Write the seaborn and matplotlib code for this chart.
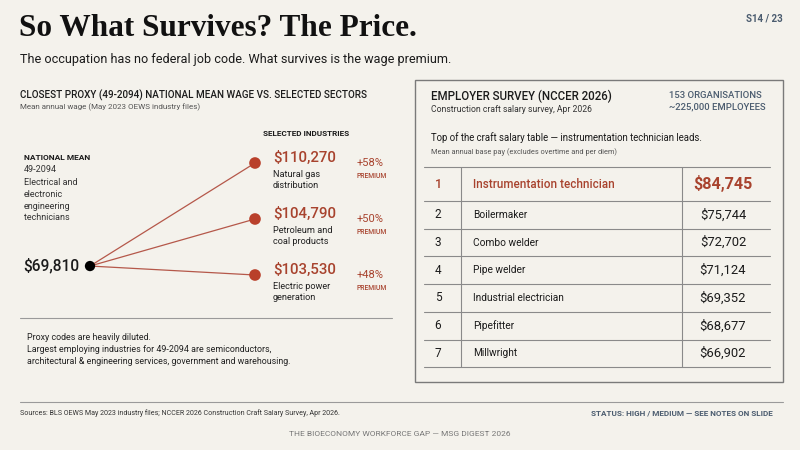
import matplotlib
matplotlib.use("Agg")
import matplotlib.pyplot as plt
import seaborn as sns
import pandas as pd

# ---------------- data ----------------
national_label = "NATIONAL MEAN"
national_code = "49-2094"
national_desc = ["Electrical and", "electronic", "engineering", "technicians"]
national_mean = 69810

industries = ["Natural gas\ndistribution", "Petroleum and\ncoal products", "Electric power\ngeneration"]
industry_wages = [110270, 104790, 103530]

ranks = [1, 2, 3, 4, 5, 6, 7]
crafts = ["Instrumentation technician", "Boilermaker", "Combo welder", "Pipe welder",
          "Industrial electrician", "Pipefitter", "Millwright"]
craft_pay = [84745, 75744, 72702, 71124, 69352, 68677, 66902]

# ---------------- style ----------------
sns.set_theme(style="white")
BODY = ["Roboto", "DejaVu Sans"]
SERIF = ["Liberation Serif", "DejaVu Serif"]
plt.rcParams["font.family"] = BODY

BG = "#f4f2ec"
INK = "#1b1b1b"
GREY = "#555555"
RED = "#a8432e"
DOT = "#b9402b"
LINE = "#b5584a"
SLATE = "#4b5c6f"
RULE = "#9a9a9a"

fig = plt.figure(figsize=(8, 4.5), dpi=100, facecolor=BG)
bg = fig.add_axes([0, 0, 1, 1])
bg.set_xlim(0, 800)
bg.set_ylim(450, 0)
bg.axis("off")
bg.set_facecolor(BG)

def T(x, y, s, **kw):
    kw.setdefault("color", INK)
    kw.setdefault("va", "center")
    bg.text(x, y, s, **kw)

# header
T(19, 29, "So What Survives? The Price.", family=SERIF, fontsize=22.5, weight="bold", color="#111111")
T(783, 19, "S14 / 23", fontsize=7, weight="bold", color=SLATE, ha="right")
T(20, 60, "The occupation has no federal job code. What survives is the wage premium.", fontsize=9.1)

# left panel header
T(20, 95, "CLOSEST PROXY (49-2094) NATIONAL MEAN WAGE VS. SELECTED SECTORS", fontsize=7.1, weight="medium")
T(20, 107, "Mean annual wage (May 2023 OEWS industry files)", fontsize=5.8, color=GREY)
T(263, 133, "SELECTED INDUSTRIES", fontsize=5.9, weight="bold")

T(24, 158, national_label, fontsize=6, weight="bold")
T(24, 170, national_code, fontsize=6.5, color="#333333")
for i, line in enumerate(national_desc):
    T(24, 182.5 + i * 11.8, line, fontsize=6.5, color="#333333")

# ---------------- slope chart ----------------
n = len(industries)
ax = fig.add_axes([90 / 800, 1 - 275 / 450, 165 / 800, 112 / 450])
ax.set_xlim(0, 1)
ax.set_ylim(n - 1, 0)
ax.axis("off")
ax.patch.set_alpha(0)

base_y = (n - 1) - 0.16
rows = []
for i, name in enumerate(industries):
    rows.append({"industry": name, "x": 0, "y": base_y, "wage": national_mean})
    rows.append({"industry": name, "x": 1, "y": i, "wage": industry_wages[i]})
df = pd.DataFrame(rows)

sns.lineplot(data=df, x="x", y="y", units="industry", estimator=None, color=LINE,
             linewidth=0.9, ax=ax, legend=False, clip_on=False)
ends = df[df["x"] == 1]
sns.scatterplot(data=ends, x="x", y="y", color=DOT, s=70, edgecolor="none", ax=ax,
                legend=False, clip_on=False, zorder=5)
sns.scatterplot(x=[0], y=[base_y], color="black", s=55, edgecolor="none", ax=ax,
                legend=False, clip_on=False, zorder=6)

ax.annotate(f"${national_mean:,}", (0, base_y), xytext=(-8, 0), textcoords="offset points",
            ha="right", va="center", fontsize=11.2, weight="medium", color=INK,
            annotation_clip=False)

for i, (name, w) in enumerate(zip(industries, industry_wages)):
    ax.annotate(f"${w:,}", (1, i), xytext=(13, 4), textcoords="offset points",
                ha="left", va="center", fontsize=10.8, weight="medium", color=RED,
                annotation_clip=False)
    ax.annotate(name, (1, i), xytext=(13, -5), textcoords="offset points",
                ha="left", va="top", fontsize=6.6, color="#222222", linespacing=1.35,
                annotation_clip=False)
    prem = round((w / national_mean - 1) * 100)
    ax.annotate(f"+{prem}%", (1, i), xytext=(73, 0), textcoords="offset points",
                ha="left", va="center", fontsize=8, color=RED, annotation_clip=False)
    ax.annotate("PREMIUM", (1, i), xytext=(73, -9.5), textcoords="offset points",
                ha="left", va="center", fontsize=4.9, weight="medium", color=RED,
                annotation_clip=False)

# divider + notes
bg.plot([20, 392], [318, 318], color=RULE, lw=0.8)
T(27, 337, "Proxy codes are heavily diluted.", fontsize=6.4, color="#222222")
T(27, 350, "Largest employing industries for 49-2094 are semiconductors,", fontsize=6.4, color="#222222")
T(27, 362, "architectural & engineering services, government and warehousing.", fontsize=6.4, color="#222222")

# ---------------- right panel ----------------
bg.add_patch(plt.Rectangle((415, 80), 368, 302, fill=False, edgecolor="#7a7a7a", lw=1.0))
T(431, 96, "EMPLOYER SURVEY (NCCER 2026)", fontsize=8.3, weight="medium")
T(431, 109, "Construction craft salary survey, Apr 2026", fontsize=6.2, color="#333333")
T(669, 96, "153 ORGANISATIONS", fontsize=6.8, weight="medium", color=SLATE)
T(669, 107, "~225,000 EMPLOYEES", fontsize=6.8, weight="medium", color=SLATE)
T(431, 138, "Top of the craft salary table \u2014 instrumentation technician leads.", fontsize=6.9)
T(431, 152, "Mean annual base pay (excludes overtime and per diem)", fontsize=5.3, color=GREY)

# table layout
tl, tr = 424, 770
c1, c2 = 461, 682
top = 167
h_first, h_row = 34, 27.7
bounds = [top, top + h_first] + [top + h_first + h_row * k for k in range(1, len(ranks))]
for yb in bounds:
    bg.plot([tl, tr], [yb, yb], color="#8a8a8a", lw=0.8)
for xc in (c1, c2):
    bg.plot([xc, xc], [top, bounds[-1]], color="#8a8a8a", lw=0.8)

for k, (r, nm, pay) in enumerate(zip(ranks, crafts, craft_pay)):
    yc = (bounds[k] + bounds[k + 1]) / 2
    if k == 0:
        T(438, yc, str(r), fontsize=9, color=RED, ha="center", weight="medium")
        T(473, yc, nm, fontsize=8.4, color=RED, weight="medium")
        T(723, yc, f"${pay:,}", fontsize=11.6, color=RED, ha="center", weight="bold")
    else:
        T(438, yc, str(r), fontsize=8.5, color=INK, ha="center")
        T(473, yc, nm, fontsize=7.3, color=INK)
        T(723, yc, f"${pay:,}", fontsize=9.4, color=INK, ha="center")

# ---------------- footer ----------------
bg.plot([20, 783], [402, 402], color=RULE, lw=0.8)
T(20, 413, "Sources: BLS OEWS May 2023 industry files; NCCER 2026 Construction Craft Salary Survey, Apr 2026.",
  fontsize=5.1, color="#333333")
T(773, 413, "STATUS: HIGH / MEDIUM \u2014 SEE NOTES ON SLIDE", fontsize=5.9, weight="bold", color=SLATE, ha="right")
T(400, 434, "THE BIOECONOMY WORKFORCE GAP \u2014 MSG DIGEST 2026", fontsize=6.0, color="#777777", ha="center")

fig.savefig("out.png", dpi=100, facecolor=BG)
